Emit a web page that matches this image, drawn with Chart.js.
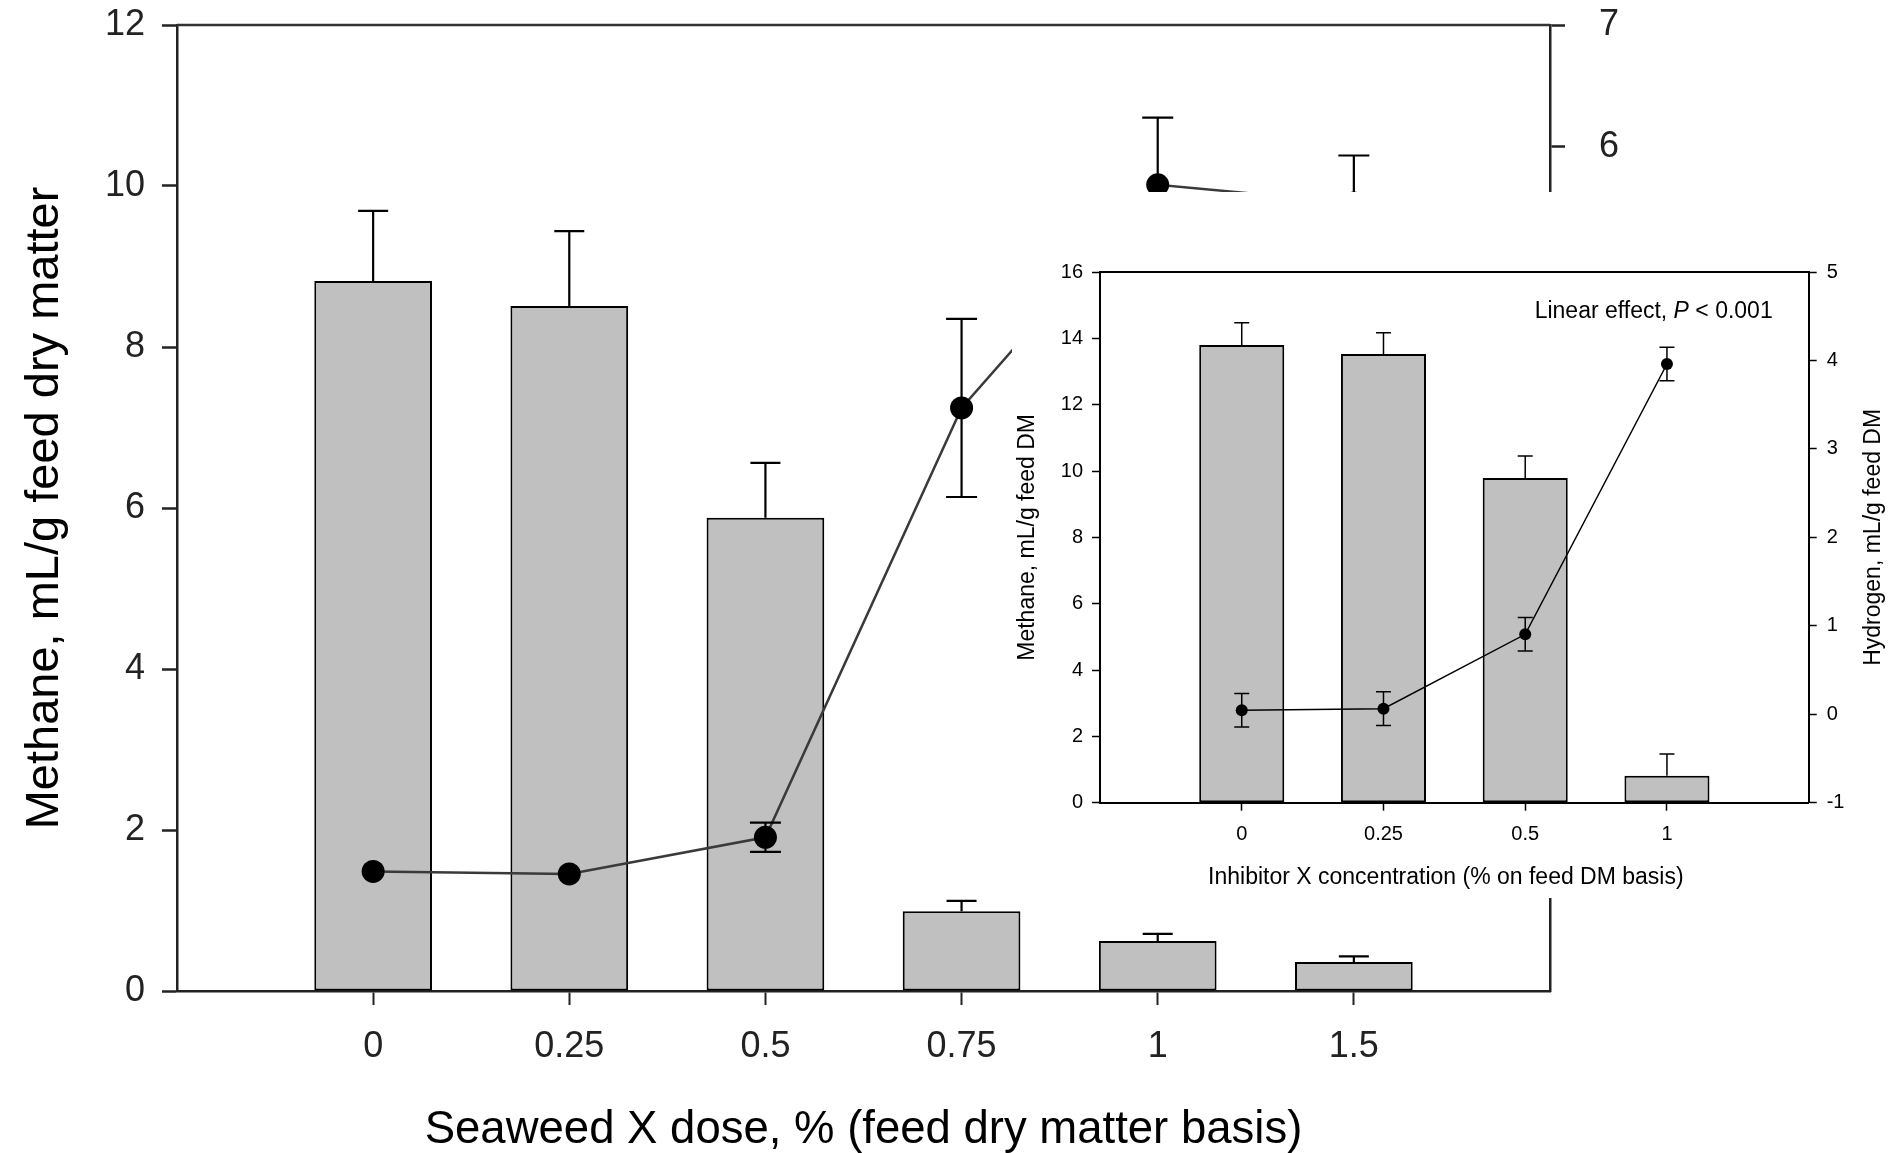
<!DOCTYPE html>
<html>
<head>
<meta charset="utf-8">
<script src="https://cdn.jsdelivr.net/npm/chart.js@4.4.1/dist/chart.umd.min.js"></script>
<style>
  body { margin: 0; background: #fff; }
  #wrap { position: relative; width: 1895px; height: 1153px; overflow: hidden; }
  #mainChart { position: absolute; left: 0; top: 0; }
  #inset { position: absolute; left: 1012px; top: 192px; width: 883px; height: 706px; background: #fff; }
</style>
</head>
<body>
<div id="wrap">
  <canvas id="mainChart" width="1895" height="1153"></canvas>
  <div id="inset"><canvas id="insetChart" width="883" height="706"></canvas></div>
</div>
<script>
// main figure: seaweed dose
const mainDoses = ["0", "0.25", "0.5", "0.75", "1", "1.5"];
const mainMethane = [8.82, 8.51, 5.88, 0.99, 0.62, 0.36];
const mainMethaneSE = [0.87, 0.93, 0.68, 0.13, 0.09, 0.07];
const mainHydrogen = [0.06, 0.04, 0.34, 3.86, 5.69, 5.54];
const mainHydrogenSE = [null, null, 0.12, 0.73, 0.55, 0.39];
const mainHydrogenTicks = [0, 1, 2, 3, 4, 5, 6, 7];

// inset: inhibitor concentration
const insetDoses = ["0", "0.25", "0.5", "1"];
const insetMethane = [13.8, 13.53, 9.79, 0.81];
const insetMethaneSE = [0.67, 0.64, 0.66, 0.66];
const insetHydrogen = [0.045, 0.063, 0.904, 3.96];
const insetHydrogenSE = [0.19, 0.19, 0.19, 0.19];

const FONT = "'Liberation Sans', Arial, sans-serif";

const toPoints = (vals) => vals.map((v, i) => ({ x: i, y: v }));
const indexTicks = (labels) => (s) => { s.ticks = labels.map((_, i) => ({ value: i })); };
// fixed axis box sizes, and no extra room for the end labels
const fixWidth = (w) => (s) => { s.width = w; s.paddingTop = 0; s.paddingBottom = 0; };
const fixHeight = (h) => (s) => { s.height = h; s.paddingLeft = 0; s.paddingRight = 0; };

// error bars, up only for bars, both ways for the line
const errorBars = {
  id: "errorBars",
  afterDatasetsDraw(chart) {
    const ctx = chart.ctx;
    chart.data.datasets.forEach((ds, i) => {
      if (!ds.errors) return;
      const meta = chart.getDatasetMeta(i);
      const yScale = chart.scales[meta.yAxisID];
      ctx.save();
      ctx.strokeStyle = "#000";
      ctx.lineWidth = ds.errorLineWidth;
      meta.data.forEach((el, j) => {
        const e = ds.errors[j];
        if (e == null) return;
        const v = ds.data[j].y;
        const x = el.x;
        const yTop = yScale.getPixelForValue(v + e);
        const yBot = ds.errorBothSides ? yScale.getPixelForValue(v - e) : el.y;
        const half = ds.errorCap / 2;
        ctx.beginPath();
        ctx.moveTo(x, yBot);
        ctx.lineTo(x, yTop);
        ctx.moveTo(x - half, yTop);
        ctx.lineTo(x + half, yTop);
        if (ds.errorBothSides) {
          ctx.moveTo(x - half, yBot);
          ctx.lineTo(x + half, yBot);
        }
        ctx.stroke();
      });
      ctx.restore();
    });
  }
};

// top border of the plot frame
const frameTop = {
  id: "frameTop",
  afterDraw(chart, args, opts) {
    const { ctx, chartArea } = chart;
    ctx.save();
    ctx.strokeStyle = opts.color;
    ctx.lineWidth = opts.width;
    ctx.beginPath();
    ctx.moveTo(chartArea.left, chartArea.top);
    ctx.lineTo(chartArea.right, chartArea.top);
    ctx.stroke();
    ctx.restore();
  }
};

// axis titles that need their own placement (right title reads bottom to top)
const sideTitles = {
  id: "sideTitles",
  afterDraw(chart, args, opts) {
    const { ctx, chartArea } = chart;
    ctx.save();
    ctx.fillStyle = "#000";
    ctx.textAlign = "center";
    ctx.textBaseline = "middle";
    ctx.font = opts.size + "px " + FONT;
    const midX = (chartArea.left + chartArea.right) / 2;
    const midY = (chartArea.top + chartArea.bottom) / 2;
    // x title
    ctx.fillText(opts.xText, midX + opts.xShift, chart.height - opts.xFromBottom);
    // right y title
    ctx.translate(chart.width - opts.rFromRight, midY);
    ctx.rotate(-Math.PI / 2);
    ctx.fillText(opts.rText, 0, 0);
    ctx.restore();
  }
};

// "Linear effect, P < 0.001" note with italic P
const pNote = {
  id: "pNote",
  afterDraw(chart) {
    const { ctx, chartArea } = chart;
    const parts = [["Linear effect, ", ""], ["P", "italic "], [" < 0.001", ""]];
    const size = 23;
    ctx.save();
    ctx.fillStyle = "#000";
    ctx.textBaseline = "middle";
    const widths = parts.map(([t, st]) => { ctx.font = st + size + "px " + FONT; return ctx.measureText(t).width; });
    let x = chartArea.right - 36 - widths.reduce((a, b) => a + b, 0);
    const y = chartArea.top + 40;
    parts.forEach(([t, st], k) => {
      ctx.font = st + size + "px " + FONT;
      ctx.fillText(t, x, y);
      x += widths[k];
    });
    ctx.restore();
  }
};

new Chart(document.getElementById("mainChart"), {
  data: {
    datasets: [
      {
        type: "line",
        label: "Hydrogen",
        data: toPoints(mainHydrogen),
        yAxisID: "y1",
        order: 0,
        borderColor: "#3a3a3a",
        borderWidth: 2.5,
        pointRadius: 11.5,
        pointBackgroundColor: "#000",
        pointBorderWidth: 0,
        errors: mainHydrogenSE,
        errorBothSides: true,
        errorCap: 31,
        errorLineWidth: 2.2,
      },
      {
        type: "bar",
        label: "Methane",
        data: toPoints(mainMethane),
        yAxisID: "y",
        order: 1,
        backgroundColor: "#c0c0c0",
        borderColor: "#000",
        borderWidth: 2,
        borderSkipped: false,
        barPercentage: 0.6,
        categoryPercentage: 1,
        errors: mainMethaneSE,
        errorCap: 30,
        errorLineWidth: 2.2,
      },
    ],
  },
  options: {
    responsive: false,
    animation: false,
    layout: { padding: { top: 25, left: 0, right: 0, bottom: 0 } },
    plugins: {
      legend: { display: false },
      tooltip: { enabled: false },
      frameTop: { color: "#333", width: 2.5 },
    },
    scales: {
      x: {
        type: "linear",
        offset: false,
        min: -1,
        max: 6,
        afterBuildTicks: indexTicks(mainDoses),
        afterFit: fixHeight(162),
        ticks: { callback: (v) => mainDoses[v], font: { family: FONT, size: 36 }, color: "#222", padding: 20, maxRotation: 0 },
        grid: { offset: false, drawOnChartArea: false, tickLength: 14, tickWidth: 2, tickColor: "#222" },
        border: { color: "#222", width: 2.5 },
        title: { display: true, text: "Seaweed X dose, % (feed dry matter basis)", font: { family: FONT, size: 45.5, lineHeight: 1 }, color: "#000", padding: { top: 0, bottom: 0 } },
      },
      y: {
        position: "left",
        min: 0,
        max: 12,
        afterFit: fixWidth(177),
        ticks: { stepSize: 2, font: { family: FONT, size: 36 }, color: "#222", padding: 17 },
        grid: { drawOnChartArea: false, tickLength: 15, tickWidth: 2.5, tickColor: "#222" },
        border: { color: "#222", width: 2.5 },
        title: { display: true, text: "Methane, mL/g feed dry matter", font: { family: FONT, size: 47, lineHeight: 1 }, color: "#000", padding: { top: 22, bottom: 0 } },
      },
      y1: {
        position: "right",
        min: -0.92,
        max: 7,
        afterBuildTicks: (s) => { s.ticks = mainHydrogenTicks.map((v) => ({ value: v })); },
        afterFit: fixWidth(345),
        ticks: { font: { family: FONT, size: 36 }, color: "#222", padding: 34 },
        grid: { drawOnChartArea: false, tickLength: 15, tickWidth: 2.5, tickColor: "#222" },
        border: { color: "#222", width: 2.5 },
      },
    },
  },
  plugins: [errorBars, frameTop],
});

new Chart(document.getElementById("insetChart"), {
  data: {
    datasets: [
      {
        type: "line",
        label: "Hydrogen",
        data: toPoints(insetHydrogen),
        yAxisID: "y1",
        order: 0,
        borderColor: "#000",
        borderWidth: 1.5,
        pointRadius: 6,
        pointBackgroundColor: "#000",
        pointBorderWidth: 0,
        errors: insetHydrogenSE,
        errorBothSides: true,
        errorCap: 15,
        errorLineWidth: 1.5,
      },
      {
        type: "bar",
        label: "Methane",
        data: toPoints(insetMethane),
        yAxisID: "y",
        order: 1,
        backgroundColor: "#c0c0c0",
        borderColor: "#000",
        borderWidth: 2,
        borderSkipped: false,
        barPercentage: 0.6,
        categoryPercentage: 1,
        errors: insetMethaneSE,
        errorCap: 15,
        errorLineWidth: 1.5,
      },
    ],
  },
  options: {
    responsive: false,
    animation: false,
    layout: { padding: { top: 80, left: 0, right: 0, bottom: 0 } },
    plugins: {
      legend: { display: false },
      tooltip: { enabled: false },
      frameTop: { color: "#000", width: 2 },
      sideTitles: {
        size: 23,
        xText: "Inhibitor X concentration (% on feed DM basis)",
        xShift: -8.5,
        xFromBottom: 20,
        rText: "Hydrogen, mL/g feed DM",
        rFromRight: 21,
      },
    },
    scales: {
      x: {
        type: "linear",
        offset: false,
        min: -1,
        max: 4,
        afterBuildTicks: indexTicks(insetDoses),
        afterFit: fixHeight(95.3),
        ticks: { callback: (v) => insetDoses[v], font: { family: FONT, size: 20 }, color: "#000", padding: 12, maxRotation: 0 },
        grid: { offset: false, drawOnChartArea: false, tickLength: 8, tickWidth: 1.5, tickColor: "#000" },
        border: { color: "#000", width: 2 },
      },
      y: {
        position: "left",
        min: 0,
        max: 16,
        afterFit: fixWidth(88),
        ticks: { stepSize: 2, font: { family: FONT, size: 20 }, color: "#000", padding: 9 },
        grid: { drawOnChartArea: false, tickLength: 8, tickWidth: 1.5, tickColor: "#000" },
        border: { color: "#000", width: 2 },
        title: { display: true, text: "Methane, mL/g feed DM", font: { family: FONT, size: 23, lineHeight: 1 }, color: "#000", padding: { top: 4.5, bottom: 0 } },
      },
      y1: {
        position: "right",
        min: -1,
        max: 5,
        afterFit: fixWidth(86.3),
        ticks: { stepSize: 1, font: { family: FONT, size: 20 }, color: "#000", padding: 10 },
        grid: { drawOnChartArea: false, tickLength: 8, tickWidth: 1.5, tickColor: "#000" },
        border: { color: "#000", width: 2 },
      },
    },
  },
  plugins: [errorBars, frameTop, sideTitles, pNote],
});
</script>
</body>
</html>
